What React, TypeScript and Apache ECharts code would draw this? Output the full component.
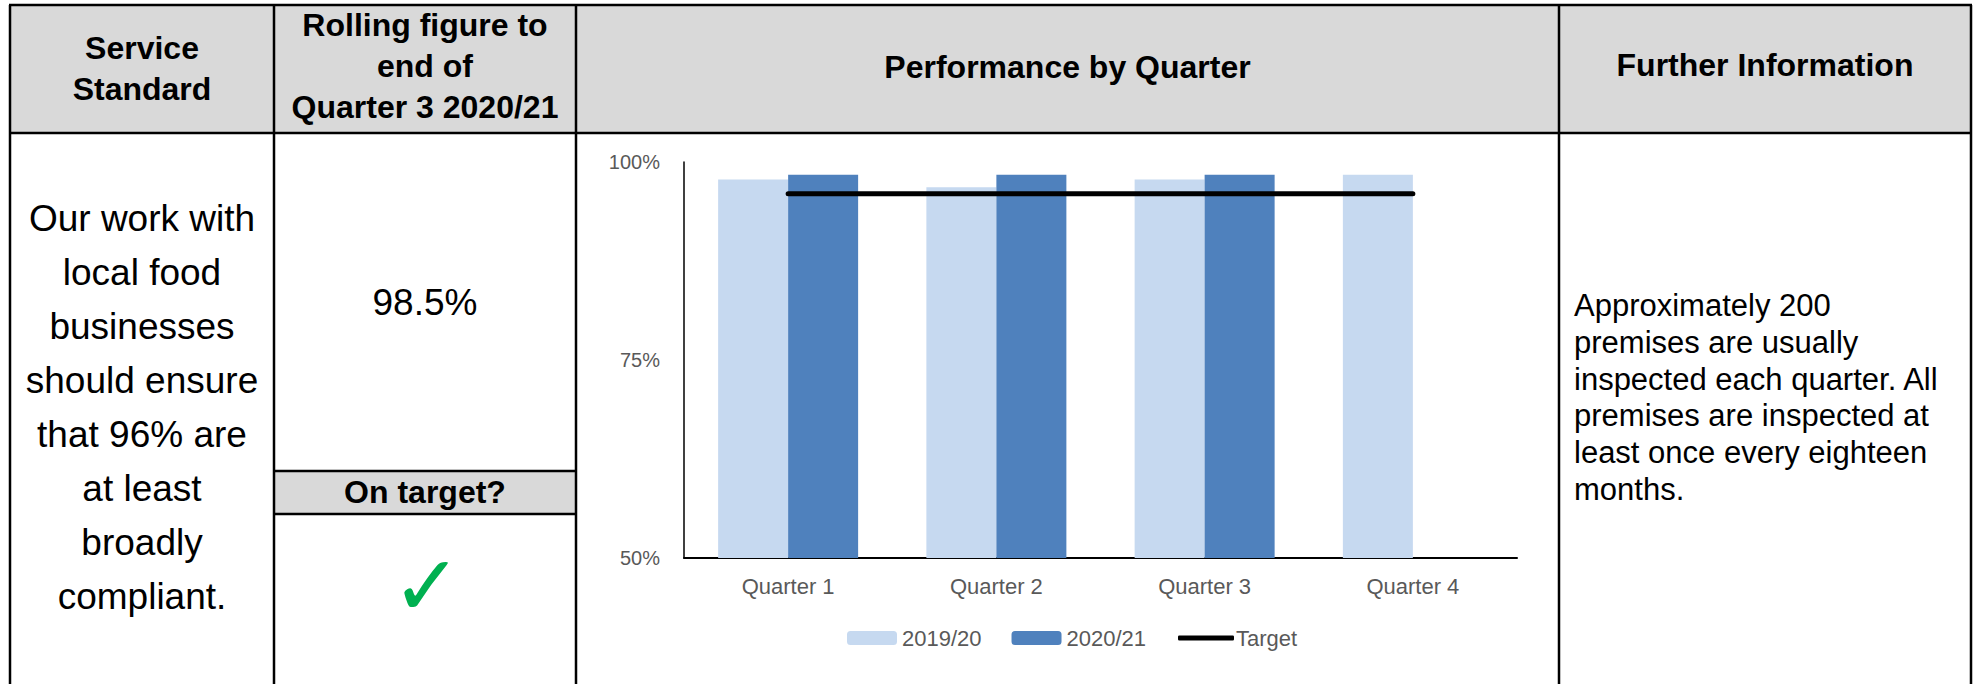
import React, { useEffect, useRef } from "react";
import * as echarts from "echarts";

// ---- data ----
const quarters = ["Quarter 1", "Quarter 2", "Quarter 3", "Quarter 4"];
const values2019 = [97.8, 96.8, 97.8, 98.4];
const values2020: (number | null)[] = [98.4, 98.4, 98.4, null];
const targetValues = [96, 96, 96, 96];
const seriesNames = ["2019/20", "2020/21", "Target"];
const yMin = 50;
const yMax = 100;
const yStep = 25;

// ---- table texts ----
const headerService = "Service\nStandard";
const headerRolling = "Rolling figure to\nend of\nQuarter 3 2020/21";
const headerPerformance = "Performance by Quarter";
const headerFurther = "Further Information";
const standardText = "Our work with\nlocal food\nbusinesses\nshould ensure\nthat 96% are\nat least\nbroadly\ncompliant.";
const rollingValue = "98.5%";
const onTargetLabel = "On target?";
const tickMark = "✓";
const furtherText =
  "Approximately 200\npremises are usually\ninspected each quarter. All\npremises are inspected at\nleast once every eighteen\nmonths.";

const FONT = "'Liberation Sans', Arial, Helvetica, sans-serif";
const GRAY_TXT = "#595959";

export default function App() {
  const ref = useRef<HTMLDivElement>(null);

  useEffect(() => {
    if (!ref.current) return;
    const chart = echarts.init(ref.current, undefined, { renderer: "svg" });

    const W = 1973;
    const H = 684;
    const xL = 10, x1 = 274, x2 = 576, x3 = 1559, xR = 1971;
    const yT = 5, yH = 133, yB1 = 471, yB2 = 514;
    const lw = 2.5;

    const vline = (x: number, ya: number, yb: number) => ({
      type: "line",
      z: 100,
      shape: { x1: x, y1: ya, x2: x, y2: yb },
      style: { stroke: "#000", lineWidth: lw },
    });
    const hline = (y: number, xa: number, xb: number) => ({
      type: "line",
      z: 100,
      shape: { x1: xa, y1: y, x2: xb, y2: y },
      style: { stroke: "#000", lineWidth: lw },
    });
    const txt = (
      text: string,
      x: number,
      y: number,
      size: number,
      weight: string,
      align: string,
      lineHeight: number,
      color = "#000",
      family = FONT
    ) => ({
      type: "text",
      z: 50,
      x,
      y,
      style: {
        text,
        fill: color,
        fontSize: size,
        fontWeight: weight,
        fontFamily: family,
        lineHeight,
        align,
        verticalAlign: "middle",
        textAlign: align,
        textVerticalAlign: "middle",
      },
    });

    const graphics: any[] = [
      { type: "rect", z: 1, shape: { x: xL, y: yT, width: xR - xL, height: yH - yT }, style: { fill: "#D9D9D9" } },
      { type: "rect", z: 1, shape: { x: x1, y: yB1, width: x2 - x1, height: yB2 - yB1 }, style: { fill: "#D9D9D9" } },
      hline(yT, xL - 1, xR + 1),
      hline(yH, xL, xR),
      hline(yB1, x1, x2),
      hline(yB2, x1, x2),
      vline(xL, yT, H),
      vline(x1, yT, H),
      vline(x2, yT, H),
      vline(x3, yT, H),
      vline(xR, yT, H),
      txt(headerService, (xL + x1) / 2, 68.5, 32, "bold", "center", 41),
      txt(headerRolling, (x1 + x2) / 2, 66, 32, "bold", "center", 41),
      txt(headerPerformance, (x2 + x3) / 2, 67, 32, "bold", "center", 41),
      txt(headerFurther, (x3 + xR) / 2, 65, 32, "bold", "center", 41),
      txt(standardText, (xL + x1) / 2, 407, 37, "normal", "center", 54),
      txt(rollingValue, (x1 + x2) / 2, 302, 37, "normal", "center", 44),
      txt(onTargetLabel, (x1 + x2) / 2, 492, 32, "bold", "center", 40),
      txt(tickMark, 427, 586, 84, "bold", "center", 86, "#00B050", "'DejaVu Sans', sans-serif"),
      txt(furtherText, 1574, 397.5, 31, "normal", "left", 36.7),
    ];

    chart.setOption({
      animation: false,
      backgroundColor: "#fff",
      textStyle: { fontFamily: FONT },
      graphic: { elements: graphics },
      grid: { left: 684, right: W - 1517, top: 162, bottom: H - 558, containLabel: false },
      legend: [
        {
          data: [seriesNames[0], seriesNames[1]],
          left: 847,
          top: 627,
          padding: 0,
          itemWidth: 50,
          itemHeight: 14,
          itemGap: 30,
          selectedMode: false,
          textStyle: { fontSize: 22, color: GRAY_TXT, fontFamily: FONT },
        },
        {
          data: [{ name: seriesNames[2], icon: "roundRect" }],
          left: 1178,
          top: 627,
          padding: 0,
          itemWidth: 56,
          itemHeight: 5,
          selectedMode: false,
          itemStyle: { color: "#000" },
          textStyle: { fontSize: 22, color: GRAY_TXT, fontFamily: FONT, padding: [0, 0, 0, -3] },
        },
      ],
      xAxis: {
        type: "category",
        data: quarters,
        axisTick: { show: false },
        axisLine: { show: true, lineStyle: { color: "#000", width: 2 } },
        axisLabel: { fontSize: 22, color: GRAY_TXT, margin: 17, fontFamily: FONT },
      },
      yAxis: {
        type: "value",
        min: yMin,
        max: yMax,
        interval: yStep,
        axisLine: { show: true, lineStyle: { color: "#000", width: 1.5 } },
        axisTick: { show: false },
        splitLine: { show: false },
        axisLabel: { fontSize: 20, color: GRAY_TXT, margin: 24, formatter: "{value}%", fontFamily: FONT },
      },
      series: [
        {
          name: seriesNames[0],
          type: "bar",
          data: values2019,
          barWidth: 70,
          barGap: "0%",
          itemStyle: { color: "#C6D9F0" },
        },
        {
          name: seriesNames[1],
          type: "bar",
          data: values2020,
          barWidth: 70,
          barGap: "0%",
          itemStyle: { color: "#4F81BD" },
        },
        {
          name: seriesNames[2],
          type: "line",
          data: targetValues,
          symbol: "none",
          z: 5,
          lineStyle: { color: "#000", width: 5, cap: "round" },
          itemStyle: { color: "#000" },
        },
      ],
    });

    return () => chart.dispose();
  }, []);

  return (
    <div
      ref={ref}
      style={{ position: "absolute", left: 0, top: 0, width: 1973, height: 684 }}
    />
  );
}
